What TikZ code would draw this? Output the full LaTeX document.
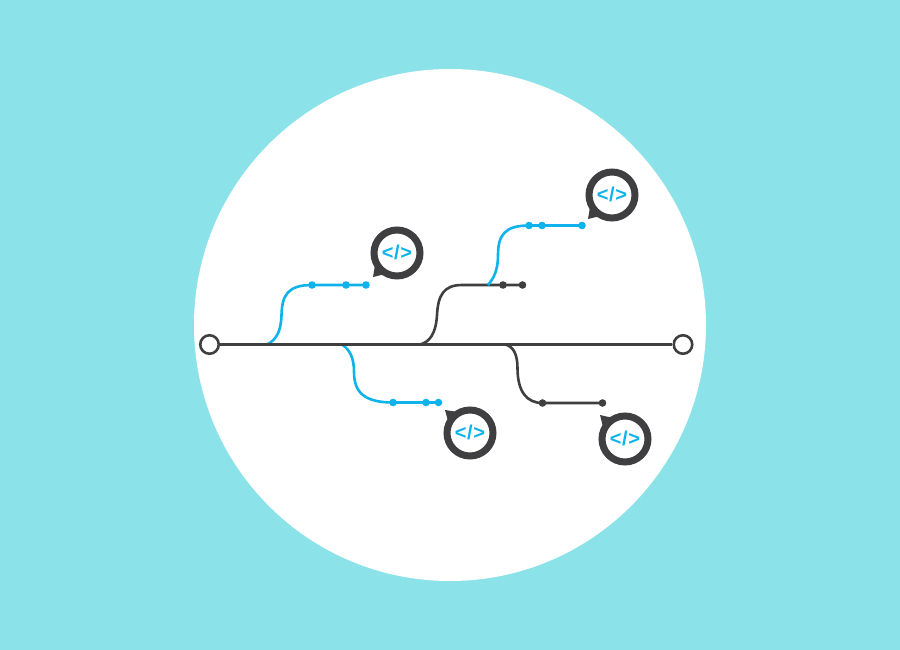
\documentclass[tikz,border=0pt]{standalone}
\usepackage{fontspec}
\setmainfont{Liberation Sans}
\usetikzlibrary{calc}
\definecolor{bgc}{HTML}{8BE3E9}
\definecolor{bluec}{HTML}{0DB3EA}
\definecolor{darkc}{HTML}{3F3F41}
\tikzset{
  endring/.style={circle,draw=darkc,fill=white,line width=2.6pt,minimum size=18.5pt,inner sep=0pt},
  bdot/.style={circle,fill=bluec,minimum size=7.6pt,inner sep=0pt},
  ddot/.style={circle,fill=darkc,minimum size=7.6pt,inner sep=0pt},
  bline/.style={draw=bluec,line width=2.6pt},
  dline/.style={draw=darkc,line width=2.6pt},
  bubble/.style={circle,draw=darkc,fill=white,line width=7pt,minimum size=46pt,inner sep=0pt,
    text=bluec,font=\fontsize{20pt}{21pt}\selectfont\bfseries},
  tailshape/.style={fill=darkc,draw=none}
}
\newcommand{\codetag}{\raisebox{0.5pt}{<\kern0.7pt/\kern0.7pt>}}
\begin{document}
\begin{tikzpicture}[x=1pt,y=-1pt]
\useasboundingbox (0,0) rectangle (900,650);
\fill[bgc] (0,0) rectangle (900,650);
\fill[white] (450,325) circle (256);

% points where branches leave
\coordinate (s1) at (267,344.5);
\coordinate (s2) at (420,344.5);
\coordinate (s3) at (342,344.5);
\coordinate (s4) at (505,344.5);
\coordinate (s5) at (488,285);

% dots
\node[bdot] (a1) at (312,285) {};
\node[bdot] (a2) at (346,285) {};
\node[bdot] (a3) at (366,285) {};
\node[ddot] (c1) at (503,285) {};
\node[ddot] (c2) at (522.5,285) {};
\node[bdot] (e1) at (529,225.5) {};
\node[bdot] (e2) at (542,225.5) {};
\node[bdot] (e3) at (582,225.5) {};
\node[bdot] (f1) at (393,402.5) {};
\node[bdot] (f2) at (426,402.5) {};
\node[bdot] (f3) at (438.5,402.5) {};
\node[ddot] (g1) at (542.5,403) {};
\node[ddot] (g2) at (602.5,403) {};

% branches
\draw[bline] (s1) .. controls (276,340) and (281,332) .. (281.5,315)
  .. controls (282,295) and (288,285) .. (a1.center) -- (a2.center) -- (a3.center);
\draw[dline] (s2) .. controls (430,342) and (436,333) .. (437,315)
  .. controls (438,295) and (444,285) .. (462,285) -- (c1.center) -- (c2.center);
\draw[bline] (s5) .. controls (494,278) and (498,270) .. (498,255)
  .. controls (498,235) and (505,225.5) .. (e1.center) -- (e2.center) -- (e3.center);
\draw[bline] (s3) .. controls (350,350) and (354,358) .. (354,372)
  .. controls (354,392) and (364,402.5) .. (f1.center) -- (f2.center) -- (f3.center);
\draw[dline] (s4) .. controls (513,346) and (517.5,354) .. (517.5,368)
  .. controls (517.5,392) and (527,403) .. (g1.center) -- (g2.center);

% main line and its ends
\node[endring] (start) at (209.5,344.5) {};
\node[endring] (finish) at (683,344.5) {};
\draw[dline] (start) -- (finish);

% speech bubbles: tails first, then the rings on top
\coordinate (p1) at (397,253);
\coordinate (p2) at (612,195);
\coordinate (p3) at (470,433);
\coordinate (p4) at (625,439);
\fill[tailshape] ($(p1)+(-24,24)$) -- ($(p1)+(-22,12)$) -- ($(p1)+(-12,21)$) -- cycle;
\fill[tailshape] ($(p2)+(-24,24)$) -- ($(p2)+(-22,12)$) -- ($(p2)+(-12,21)$) -- cycle;
\fill[tailshape] ($(p3)+(-25,-23)$) -- ($(p3)+(-22,-12)$) -- ($(p3)+(-12,-21)$) -- cycle;
\fill[tailshape] ($(p4)+(-25,-24)$) -- ($(p4)+(-22,-12)$) -- ($(p4)+(-12,-21)$) -- cycle;
\node[bubble] (b1) at (p1) {\codetag};
\node[bubble] (b2) at (p2) {\codetag};
\node[bubble] (b3) at (p3) {\codetag};
\node[bubble] (b4) at (p4) {\codetag};
\end{tikzpicture}
\end{document}
